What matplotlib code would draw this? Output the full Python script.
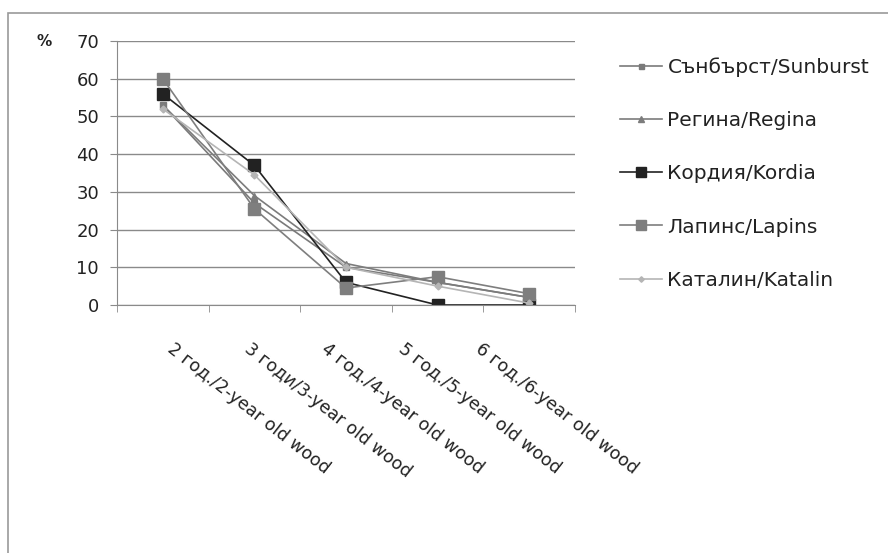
import numpy as np
import matplotlib.pyplot as plt
from matplotlib.patches import Rectangle
from matplotlib.transforms import ScaledTranslation

plt.rcParams['font.family'] = ['DejaVu Sans']

# share of fruiting formations by wood age, %
categories = ['2 год./2-year old wood', '3 годи/3-year old wood', '4 год./4-year old wood',
              '5 год./5-year old wood', '6 год./6-year old wood']
names = ['Сънбърст/Sunburst', 'Регина/Regina', 'Кордия/Kordia', 'Лапинс/Lapins', 'Каталин/Katalin']
sunburst = [53, 27, 10, 6, 2]
regina = [53, 29, 11, 6, 2]
kordia = [56, 37, 6, 0, 0]
lapins = [60, 25.5, 4.5, 7.5, 3]
katalin = [52, 34.5, 10, 5, 0.5]
yticks = [0, 10, 20, 30, 40, 50, 60, 70]

series = [sunburst, regina, kordia, lapins, katalin]
styles = [dict(color='#7a7a7a', marker='s', ms=4.5),
          dict(color='#7c7c7c', marker='^', ms=5),
          dict(color='#222222', marker='s', ms=9),
          dict(color='#7e7e7e', marker='s', ms=9),
          dict(color='#b5b5b5', marker='D', ms=3.5)]

fig = plt.figure(figsize=(8.88, 5.53), dpi=100)
ax = fig.add_axes([117/888, 1-305/553, 458/888, 264/553])

x = np.arange(len(categories))
for vals, name, st in zip(series, names, styles):
    ax.plot(x, vals, lw=1.2, label=name, **st)

ax.set_xlim(-0.5, len(categories)-0.5)
ax.set_ylim(0, 70)
ax.set_yticks(yticks)
ax.yaxis.grid(True, color='#8a8a8a', lw=1)
ax.set_axisbelow(True)
for s in ['top', 'right']:
    ax.spines[s].set_visible(False)
for s in ['left', 'bottom']:
    ax.spines[s].set_color('#8a8a8a')
ax.tick_params(axis='y', length=5, color='#8a8a8a', labelsize=13, pad=8, labelcolor='#222222')

# category labels at centres, tick marks at the boundaries
ax.set_xticks(x)
ax.set_xticklabels(categories, rotation=-38, ha='left', va='top',
                   rotation_mode='anchor', fontsize=12.5, color='#222222')
ax.tick_params(axis='x', which='major', length=0, pad=25)
ax.set_xticks(np.arange(-0.5, len(categories), 1), minor=True)
ax.tick_params(axis='x', which='minor', length=5, color='#8a8a8a')
for i, lab in enumerate(ax.get_xticklabels()):
    lab.set_transform(lab.get_transform() + ScaledTranslation((12 - 14.5*i)/100, 0, fig.dpi_scale_trans))

fig.text(36/888, 1-42/553, '%', fontsize=11, fontweight='bold', va='center', color='#222222')

ax.legend(loc='upper left', bbox_to_anchor=(602/888, 1-39/553), bbox_transform=fig.transFigure,
          frameon=False, fontsize=14.5, handlelength=2.1, handletextpad=0.25,
          labelspacing=1.7, markerscale=0.8, labelcolor='#222222')

fig.patches.append(Rectangle((8/888, -0.1), 1.2, 1.1 - 13/553, transform=fig.transFigure,
                             fill=False, ec='#9a9a9a', lw=1.2))

fig.savefig('out.png', dpi=100)
